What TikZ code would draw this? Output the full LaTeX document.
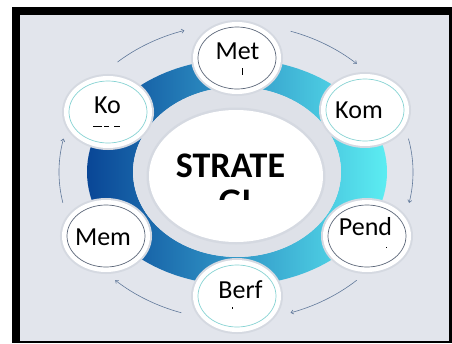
\documentclass[tikz,border=0pt]{standalone}
\usepackage{fontspec}
\setmainfont{Carlito}
\usetikzlibrary{shapes.geometric,arrows.meta}
\definecolor{bgc}{HTML}{E2E5EC}
\definecolor{holec}{HTML}{DEE1E8}
\definecolor{glowc}{HTML}{D5D9E1}
\definecolor{tealc}{HTML}{86D3D3}
\definecolor{darkc}{HTML}{5B6678}
\definecolor{arrc}{HTML}{60789A}
\definecolor{ringL}{HTML}{094696}
\definecolor{ringM}{HTML}{3298C8}
\definecolor{ringR}{HTML}{5CEDF2}
\pgfdeclarehorizontalshading{ringshade}{100bp}{color(0bp)=(ringL); color(25bp)=(ringL); color(50bp)=(ringM); color(75bp)=(ringR); color(100bp)=(ringR)}
\begin{document}
\begin{tikzpicture}[x=1pt,y=-1pt,
  lbl/.style={font=\fontsize{26}{30}\selectfont, anchor=base, inner sep=0pt, text=black},
  bigl/.style={font=\bfseries\fontsize{36}{40}\selectfont, anchor=base, inner sep=0pt, text=black},
  bubble/.style={ellipse, fill=white, line width=0.7pt, minimum width=78pt, minimum height=62pt, inner sep=0pt,
     preaction={draw=glowc, line width=14pt}, preaction={draw=white, line width=10pt}},
  flow/.style={draw=arrc, line width=0.6pt, -{To[length=3pt,width=4.5pt]}}
]
\useasboundingbox (0,0) rectangle (452,343);
\fill[white] (0,0) rectangle (452,343);
\fill[black] (12,7) rectangle (452,343);
\fill[bgc] (20,15) rectangle (449,341);

% cycle arrows
\coordinate (a1) at ([shift={(236,172)}]-132:177 and 148);
\coordinate (a2) at ([shift={(236,172)}]-72:177 and 148);
\coordinate (a3) at ([shift={(236,172)}]-13:177 and 148);
\coordinate (a4) at ([shift={(236,172)}]47:177 and 148);
\coordinate (a5) at ([shift={(236,172)}]108:177 and 148);
\coordinate (a6) at ([shift={(236,172)}]168:177 and 148);
\draw[flow] (a1) arc[start angle=-132, end angle=-107, x radius=177, y radius=148];
\draw[flow] (a2) arc[start angle=-72, end angle=-47, x radius=177, y radius=148];
\draw[flow] (a3) arc[start angle=-13, end angle=12, x radius=177, y radius=148];
\draw[flow] (a4) arc[start angle=47, end angle=72, x radius=177, y radius=148];
\draw[flow] (a5) arc[start angle=108, end angle=133, x radius=177, y radius=148];
\draw[flow] (a6) arc[start angle=168, end angle=193, x radius=177, y radius=148];

% ring
\shade[shading=ringshade, even odd rule] (237,172) ellipse[x radius=150, y radius=113] (237,172) ellipse[x radius=104, y radius=85];
\fill[holec] (237,172) ellipse[x radius=104, y radius=85];
\node[ellipse, fill=white, minimum width=174pt, minimum height=132pt, inner sep=0pt,
      preaction={draw=glowc, line width=5pt}] (hub) at (236,176) {};

% bubbles
\node[bubble, draw=tealc] (ko) at (108,112) {};
\node[bubble, draw=darkc] (met) at (237,58) {};
\node[bubble, draw=tealc] (kom) at (365,110) {};
\node[bubble, draw=darkc] (pend) at (367,236) {};
\node[bubble, draw=tealc] (berf) at (237,296) {};
\node[bubble, draw=darkc] (mem) at (106,236) {};

% labels
\node[lbl] (tmet) at (237.5,59) {Met};
\node[lbl] (tko) at (107.5,113) {Ko};
\node[lbl] (tkom) at (359,118) {Kom};
\node[lbl] (tpend) at (365.5,235) {Pend};
\node[lbl] (tmem) at (103,245) {Mem};
\node[lbl] (tberf) at (240.5,298) {Berf};
\node[bigl] (tstr) at (230.5,177) {STRATE};
\begin{scope}
\clip (150,185) rectangle (322,199);
\node[bigl] (tgi) at (235,213) {GI};
\end{scope}

% clipped remnants of second text lines
\fill[black] (241.6,68) rectangle (243,74.5);
\fill[black] (93,126) rectangle (102,127.3);
\fill[black] (104,126) rectangle (109,127.3);
\fill[black] (114,126) rectangle (120,127.3);
\fill[black] (385.5,246.5) rectangle (387.3,248.3);
\fill[black] (231.5,306.8) rectangle (233.3,308.6);
\end{tikzpicture}
\end{document}
